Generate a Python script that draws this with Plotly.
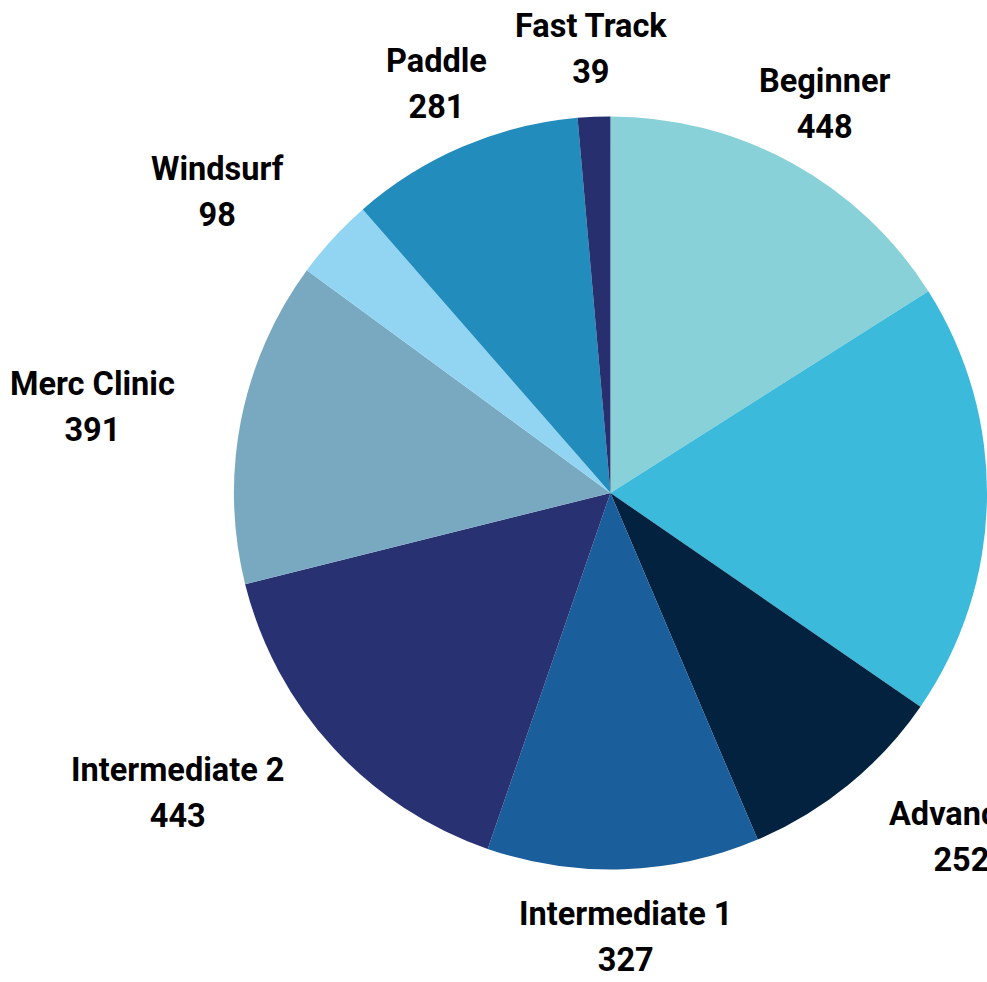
import math
import plotly.graph_objects as go

labels = ["Beginner", "Youth", "Advanced", "Intermediate 1", "Intermediate 2",
          "Merc Clinic", "Windsurf", "Paddle", "Fast Track"]
values = [448, 521, 252, 327, 443, 391, 98, 281, 39]
colors = ["#88d1d9", "#3bbadb", "#03223f", "#1a5e9b", "#283172",
          "#79a9c1", "#91d5f3", "#228cbd", "#272f6e"]

W, H = 987, 982
dom_x = [0.237, 1.0]
dom_y = [0.114, 0.882]

fig = go.Figure(go.Pie(
    labels=labels,
    values=values,
    sort=False,
    direction="clockwise",
    rotation=0,
    marker=dict(colors=colors, line=dict(width=0)),
    textinfo="none",
    hoverinfo="label+value+percent",
    showlegend=False,
    domain=dict(x=dom_x, y=dom_y),
))

# label placement derived from the slice angles
cx = (dom_x[0] + dom_x[1]) / 2
cy = (dom_y[0] + dom_y[1]) / 2
radius_px = min((dom_x[1] - dom_x[0]) * W, (dom_y[1] - dom_y[0]) * H) / 2
label_r = radius_px * 1.18
total = sum(values)
# annotation font size sets the line spacing (1.3em); glyphs are drawn at 32.5px
font = dict(family="Roboto", size=35.4, color="#000000", weight="bold")
cum = 0
for lab, val in zip(labels, values):
    mid = (cum + val / 2) / total * 2 * math.pi
    cum += val
    s, c = math.sin(mid), math.cos(mid)
    ax = cx + label_r * s / W
    ay = cy + label_r * c / H
    if s > 0.55:
        xa, xs = "left", -4
    elif s < -0.55:
        xa, xs = "right", 3
    else:
        xa, xs = "center", 0
    txt = (f"<span style='font-size:32.5px'>{lab}</span><br>"
           f"<span style='font-size:32.5px'>{val}</span>")
    fig.add_annotation(
        x=ax, y=ay, xref="paper", yref="paper",
        text=txt, showarrow=False, xanchor=xa, yanchor="middle",
        xshift=xs, align="center", font=font,
    )

fig.update_layout(
    width=W, height=H,
    margin=dict(l=0, r=0, t=0, b=0),
    paper_bgcolor="white",
    plot_bgcolor="white",
)

fig.write_html(
    "out.html",
    config={"displayModeBar": False},
    post_script="document.body.style.margin='0';document.body.style.overflow='hidden';",
)
